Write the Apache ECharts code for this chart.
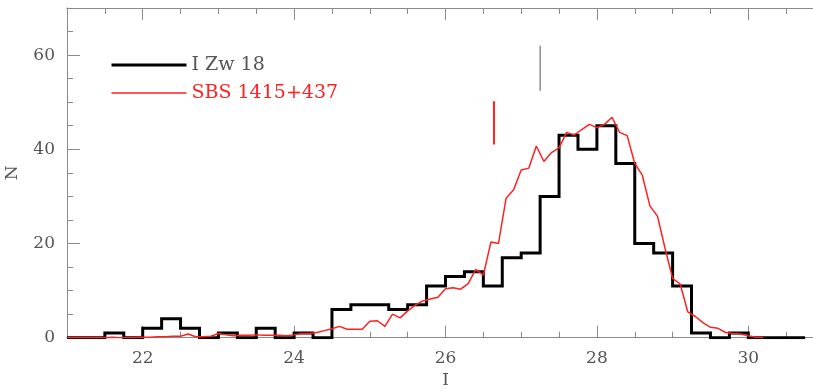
<!DOCTYPE html>
<html>
<head>
<meta charset="utf-8">
<script src="https://cdn.jsdelivr.net/npm/echarts@6/dist/echarts.min.js"></script>
<style>
  html, body { margin: 0; padding: 0; background: #fff; }
  #main { width: 813px; height: 389px; }
</style>
</head>
<body>
<div id="main"></div>
<script>
// I Zw 18 histogram: left bin edges (0.25 mag bins) and counts
var zwEdges = [21.0, 21.25, 21.5, 21.75, 22.0, 22.25, 22.5, 22.75, 23.0, 23.25,
    23.5, 23.75, 24.0, 24.25, 24.5, 24.75, 25.0, 25.25, 25.5, 25.75,
    26.0, 26.25, 26.5, 26.75, 27.0, 27.25, 27.5, 27.75, 28.0, 28.25,
    28.5, 28.75, 29.0, 29.25, 29.5, 29.75, 30.0, 30.25, 30.5, 30.75];
var zwCounts = [0, 0, 1, 0, 2, 4, 2, 0, 1, 0,
    2, 0, 1, 0, 6, 7, 7, 6, 7, 11,
    13, 14, 11, 17, 18, 30, 43, 40, 45, 37,
    20, 18, 11, 1, 0, 1, 0, 0, 0, 0];

// SBS 1415+437 curve
var sbsMag = [21.0, 21.1, 21.2, 21.3, 21.4, 21.5, 21.6, 21.7, 21.8, 21.9,
    22.0, 22.1, 22.2, 22.3, 22.4, 22.5, 22.6, 22.7, 22.8, 22.9,
    23.0, 23.1, 23.2, 23.3, 23.4, 23.5, 23.6, 23.7, 23.8, 23.9,
    24.0, 24.1, 24.2, 24.3, 24.4, 24.5, 24.6, 24.7, 24.8, 24.9,
    25.0, 25.1, 25.2, 25.3, 25.4, 25.5, 25.6, 25.7, 25.8, 25.9,
    26.0, 26.1, 26.2, 26.3, 26.4, 26.5, 26.6, 26.7, 26.8, 26.9,
    27.0, 27.1, 27.2, 27.3, 27.4, 27.5, 27.6, 27.7, 27.8, 27.9,
    28.0, 28.1, 28.2, 28.3, 28.4, 28.5, 28.6, 28.7, 28.8, 28.9,
    29.0, 29.1, 29.2, 29.3, 29.4, 29.5, 29.6, 29.7, 29.8, 29.9,
    30.0, 30.1, 30.2];
var sbsN = [0, 0, 0, 0, 0, 0, 0.1, 0, 0, 0,
    0.1, 0.1, 0.2, 0.2, 0.3, 0.3, 0.8, 0.2, 0.2, 0.3,
    0.9, 0.6, 0.4, 0.5, 0.5, 0.6, 0.5, 0.5, 0.5, 0.4,
    0.6, 0.9, 0.9, 1.1, 1.5, 1.9, 2.4, 1.8, 1.8, 1.8,
    3.5, 3.6, 2.4, 5.0, 4.2, 5.7, 6.9, 7.8, 8.2, 8.6,
    10.4, 10.6, 10.3, 11.5, 14.5, 13.3, 20.3, 20.0, 29.6, 31.4,
    35.6, 36.0, 40.7, 37.4, 39.3, 40.3, 43.6, 43.0, 44.2, 45.3,
    44.6, 45.3, 46.8, 43.6, 42.9, 37.0, 34.5, 28.0, 25.8, 19.0,
    12.6, 11.4, 5.5, 4.5, 3.2, 2.2, 2.0, 1.1, 0.9, 0.8,
    0.4, 0.1, 0];

// marker bars
var zwMarkX = 27.25, zwMarkN = [52.4, 62];
var sbsMarkX = 26.64, sbsMarkN = [41, 50.2];

// ticks
var xMinorTicks = [21, 21.5, 22, 22.5, 23, 23.5, 24, 24.5, 25, 25.5, 26, 26.5,
    27, 27.5, 28, 28.5, 29, 29.5, 30, 30.5, 31];
var xMajorTicks = [22, 24, 26, 28, 30];
var yMajorTicks = [0, 20, 40, 60];

var FONT = 'DejaVu Serif';
var AX = '#8a8a8a';
var TXT = '#555';
var RED = '#ff2020';

function pairs(xs, ys) {
    return xs.map(function (x, i) { return [x, ys[i]]; });
}

function xAx(pos, ticks, len, withLabels) {
    var a = {
        type: 'value', position: pos, min: 21, max: 31,
        axisLine: { show: true, onZero: false, lineStyle: { color: AX, width: 1 } },
        axisTick: { show: true, inside: true, length: len, customValues: ticks,
            lineStyle: { color: AX, width: 1 } },
        axisLabel: { show: false },
        splitLine: { show: false }
    };
    if (withLabels) {
        a.axisLabel = { show: true, customValues: xMajorTicks, margin: 12,
            fontFamily: FONT, fontSize: 17, color: TXT };
        a.name = 'I';
        a.nameLocation = 'middle';
        a.nameGap = 32;
        a.nameTextStyle = { fontFamily: FONT, fontSize: 17, color: TXT };
    }
    return a;
}

var myChart = echarts.init(document.getElementById('main'));
myChart.setOption({
    animation: false,
    backgroundColor: '#fff',
    grid: { left: 67, top: 8, width: 757, height: 329.7, containLabel: false,
        outerBoundsMode: 'none' },
    legend: {
        orient: 'vertical', left: 105, top: 50,
        itemWidth: 75, itemHeight: 20, itemGap: 8,
        itemStyle: { opacity: 0 },
        textStyle: { fontFamily: FONT, fontSize: 19, lineHeight: 20 },
        data: [
            { name: 'I Zw 18', textStyle: { color: TXT },
                lineStyle: { color: '#000', width: 3 } },
            { name: 'SBS 1415+437', textStyle: { color: RED },
                lineStyle: { color: RED, width: 1.5 } }
        ]
    },
    xAxis: [
        xAx('bottom', xMinorTicks, 6, true),
        xAx('bottom', xMajorTicks, 12, false),
        xAx('top', xMinorTicks, 6, false),
        xAx('top', xMajorTicks, 12, false)
    ],
    yAxis: [
        {
            type: 'value', min: 0, max: 70, interval: 5, position: 'left',
            axisLine: { show: true, onZero: false, lineStyle: { color: AX } },
            axisTick: { show: true, inside: true, length: 6, lineStyle: { color: AX } },
            axisLabel: { show: false },
            splitLine: { show: false }
        },
        {
            type: 'value', min: 0, max: 70, position: 'left',
            axisLine: { show: false },
            axisTick: { show: true, inside: true, length: 13, customValues: yMajorTicks,
                lineStyle: { color: AX } },
            axisLabel: { show: true, customValues: yMajorTicks, margin: 12,
                fontFamily: FONT, fontSize: 17, color: TXT },
            splitLine: { show: false },
            name: 'N', nameLocation: 'middle', nameGap: 46, nameRotate: 90,
            nameTextStyle: { fontFamily: FONT, fontSize: 17, color: TXT }
        }
    ],
    series: [
        {
            name: 'I Zw 18', type: 'line', step: 'end', symbol: 'none',
            data: pairs(zwEdges, zwCounts),
            lineStyle: { color: '#000', width: 3, join: 'miter' },
            itemStyle: { color: '#000' },
            z: 3
        },
        {
            name: 'SBS 1415+437', type: 'line', symbol: 'none',
            data: pairs(sbsMag, sbsN),
            lineStyle: { color: RED, width: 1.5 },
            itemStyle: { color: RED },
            z: 4
        },
        {
            name: 'zwMark', type: 'line', symbol: 'none',
            data: [[zwMarkX, zwMarkN[0]], [zwMarkX, zwMarkN[1]]],
            lineStyle: { color: '#555', width: 1 }
        },
        {
            name: 'sbsMark', type: 'line', symbol: 'none',
            data: [[sbsMarkX, sbsMarkN[0]], [sbsMarkX, sbsMarkN[1]]],
            lineStyle: { color: RED, width: 2 }
        }
    ]
});
</script>
</body>
</html>
